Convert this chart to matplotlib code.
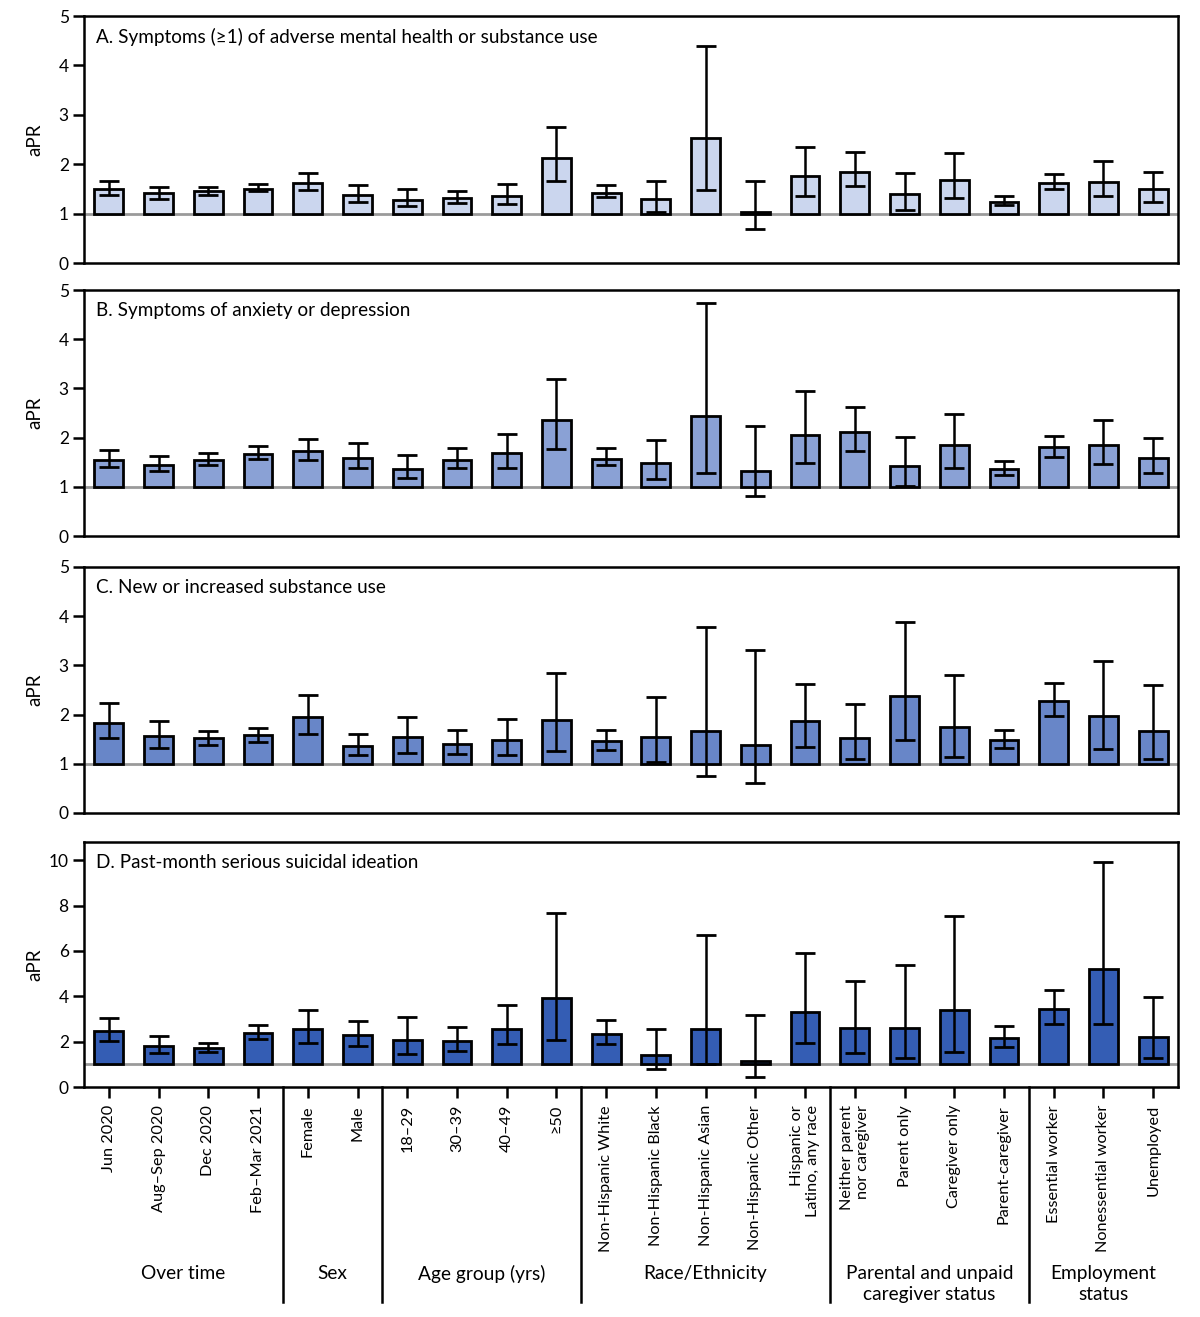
import numpy as np
import matplotlib.pyplot as plt
import matplotlib.transforms as mtransforms

plt.rcParams['font.family'] = ['Lato', 'DejaVu Sans']

categories = ['Jun 2020', 'Aug\u2013Sep 2020', 'Dec 2020', 'Feb\u2013Mar 2021',
              'Female', 'Male',
              '18\u201329', '30\u201339', '40\u201349', '\u226550',
              'Non-Hispanic White', 'Non-Hispanic Black', 'Non-Hispanic Asian',
              'Non-Hispanic Other', 'Hispanic or\nLatino, any race',
              'Neither parent\nnor caregiver', 'Parent only', 'Caregiver only',
              'Parent-caregiver',
              'Essential worker', 'Nonessential worker', 'Unemployed']

groups = ['Over time', 'Sex', 'Age group (yrs)', 'Race/Ethnicity',
          'Parental and unpaid\ncaregiver status', 'Employment\nstatus']
group_sizes = [4, 2, 4, 5, 4, 3]

titles = ['A. Symptoms (\u22651) of adverse mental health or substance use',
          'B. Symptoms of anxiety or depression',
          'C. New or increased substance use',
          'D. Past-month serious suicidal ideation']

# adjusted prevalence ratios with 95% CI
apr_a = [1.50, 1.41, 1.45, 1.50, 1.62, 1.37, 1.28, 1.32, 1.35, 2.12, 1.42,
         1.30, 2.53, 1.04, 1.76, 1.85, 1.39, 1.68, 1.24, 1.63, 1.64, 1.49]
lo_a = [1.38, 1.30, 1.38, 1.45, 1.48, 1.24, 1.15, 1.21, 1.19, 1.67, 1.33,
        1.04, 1.48, 0.69, 1.35, 1.56, 1.08, 1.31, 1.17, 1.50, 1.35, 1.24]
hi_a = [1.66, 1.54, 1.54, 1.60, 1.82, 1.57, 1.50, 1.46, 1.59, 2.75, 1.58,
        1.67, 4.39, 1.67, 2.35, 2.24, 1.83, 2.22, 1.35, 1.80, 2.06, 1.84]

apr_b = [1.55, 1.45, 1.55, 1.67, 1.72, 1.58, 1.36, 1.55, 1.68, 2.35, 1.57,
         1.49, 2.44, 1.33, 2.06, 2.12, 1.42, 1.84, 1.36, 1.81, 1.84, 1.59]
lo_b = [1.41, 1.33, 1.44, 1.57, 1.54, 1.38, 1.17, 1.38, 1.38, 1.76, 1.44,
        1.16, 1.28, 0.81, 1.48, 1.73, 1.02, 1.39, 1.23, 1.61, 1.46, 1.29]
hi_b = [1.75, 1.63, 1.69, 1.82, 1.97, 1.89, 1.64, 1.78, 2.08, 3.19, 1.78,
        1.95, 4.74, 2.24, 2.94, 2.62, 2.01, 2.49, 1.52, 2.03, 2.35, 2.00]

apr_c = [1.83, 1.56, 1.52, 1.58, 1.96, 1.37, 1.54, 1.40, 1.49, 1.88, 1.46,
         1.54, 1.67, 1.39, 1.86, 1.53, 2.38, 1.75, 1.48, 2.27, 1.98, 1.67]
lo_c = [1.53, 1.33, 1.39, 1.44, 1.61, 1.18, 1.22, 1.19, 1.17, 1.25, 1.28,
        1.04, 0.76, 0.60, 1.34, 1.09, 1.48, 1.13, 1.32, 1.97, 1.31, 1.09]
hi_c = [2.24, 1.87, 1.67, 1.73, 2.39, 1.60, 1.95, 1.68, 1.91, 2.85, 1.69,
        2.36, 3.78, 3.32, 2.62, 2.22, 3.89, 2.80, 1.69, 2.65, 3.08, 2.60]

apr_d = [2.45, 1.81, 1.71, 2.40, 2.55, 2.28, 2.09, 2.03, 2.58, 3.94, 2.34,
         1.41, 2.58, 1.15, 3.32, 2.62, 2.61, 3.38, 2.17, 3.42, 5.21, 2.21]
lo_d = [2.01, 1.48, 1.54, 2.10, 1.94, 1.82, 1.46, 1.58, 1.89, 2.07, 1.91,
        0.81, 1.03, 0.44, 1.92, 1.51, 1.29, 1.55, 1.77, 2.79, 2.78, 1.26]
hi_d = [3.06, 2.27, 1.95, 2.75, 3.38, 2.92, 3.10, 2.63, 3.62, 7.67, 2.94,
        2.58, 6.68, 3.16, 5.91, 4.67, 5.38, 7.55, 2.70, 4.27, 9.93, 3.97]

panels = [(apr_a, lo_a, hi_a), (apr_b, lo_b, hi_b),
          (apr_c, lo_c, hi_c), (apr_d, lo_d, hi_d)]
colors = ['#cbd6ee', '#8aa1d5', '#6886c8', '#345db4']
ylims = [5, 5, 5, 10.8]
yticks = [range(0, 6), range(0, 6), range(0, 6), range(0, 11, 2)]

# axes boxes (left, bottom, width, height) in figure fraction
boxes = [(0.070, 0.8003, 0.9117, 0.1875),
         (0.070, 0.5930, 0.9117, 0.1868),
         (0.070, 0.3827, 0.9117, 0.1868),
         (0.070, 0.1746, 0.9117, 0.1861)]

fig = plt.figure(figsize=(12, 13.17), dpi=100)
x = np.arange(len(categories))

for i, (vals, lo, hi) in enumerate(panels):
    ax = fig.add_axes(boxes[i])
    vals = np.array(vals)
    lo = np.array(lo)
    hi = np.array(hi)
    ax.axhline(1, color='#9a9a9a', lw=2, zorder=1)
    ax.bar(x, vals - 1, bottom=1, width=0.58, color=colors[i],
           edgecolor='black', linewidth=2, zorder=2)
    ax.errorbar(x, vals, yerr=[vals - lo, hi - vals], fmt='none',
                ecolor='black', elinewidth=1.8, capsize=7, capthick=2,
                zorder=3)
    ax.set_xlim(-0.5, len(categories) - 0.5)
    ax.set_ylim(0, ylims[i])
    ax.set_yticks(list(yticks[i]))
    ax.tick_params(axis='y', length=8, width=1.8, labelsize=12.5, pad=3)
    for s in ax.spines.values():
        s.set_linewidth(1.8)
    ax.set_ylabel('aPR', fontsize=13.5)
    ax.yaxis.set_label_coords(-0.0375, 0.5)
    ax.text(0.011, 0.915, titles[i], transform=ax.transAxes, fontsize=13.6,
            va='center', ha='left')
    if i < 3:
        ax.set_xticks([])
    else:
        ax.set_xticks(x)
        ax.set_xticklabels(categories, rotation=90, fontsize=11.7,
                           va='top', ha='center', multialignment='right')
        ax.tick_params(axis='x', length=8, width=1.8, pad=5)
        trans = mtransforms.blended_transform_factory(ax.transData, ax.transAxes)
        edges = np.cumsum(group_sizes)
        starts = np.concatenate([[0], edges[:-1]])
        for e in edges[:-1]:
            ax.plot([e - 0.5, e - 0.5], [0, -0.878], color='black', lw=1.8,
                    transform=trans, clip_on=False)
        for g, s0, n in zip(groups, starts, group_sizes):
            ax.text(s0 + (n - 1) / 2, -0.725, g, transform=trans,
                    ha='center', va='top', fontsize=13.8, linespacing=1.28)

fig.savefig('out.png', dpi=100)
